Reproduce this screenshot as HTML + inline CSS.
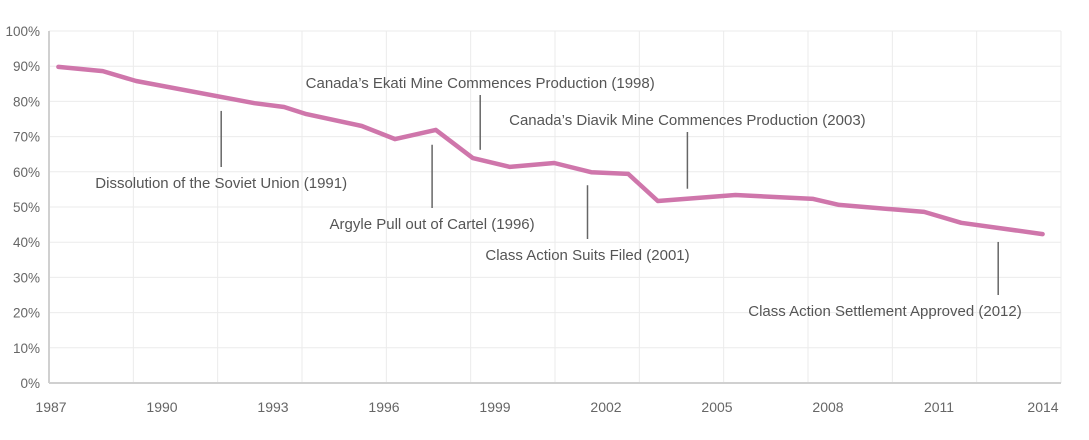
<!DOCTYPE html>
<html><head><meta charset="utf-8"><style>
body{margin:0;background:#fff;}
svg{display:block;font-family:"Liberation Sans",sans-serif;}
</style></head><body>
<svg id="chart" width="1089" height="440" viewBox="0 0 1089 440"></svg>
<script>
const years=[1987.2,1988.4,1989.3,1992.5,1993.3,1993.9,1995.4,1996.3,1997.4,1998.4,1999.4,2000.6,2001.6,2002.6,2003.4,2005.5,2007.6,2008.3,2010.6,2011.6,2013.8];
const values=[89.8,88.6,85.8,79.5,78.4,76.4,73.0,69.3,71.9,63.9,61.4,62.5,59.9,59.4,51.7,53.4,52.3,50.6,48.6,45.5,42.3];
const yTicks=[0,10,20,30,40,50,60,70,80,90,100];
const xTickLabels=[1987,1990,1993,1996,1999,2002,2005,2008,2011,2014];
const annoText=["Dissolution of the Soviet Union (1991)","Canada’s Ekati Mine Commences Production (1998)","Argyle Pull out of Cartel (1996)","Canada’s Diavik Mine Commences Production (2003)","Class Action Suits Filed (2001)","Class Action Settlement Approved (2012)"];
const annoYear=[1991.6,1998.6,1997.3,2004.2,2001.5,2012.6];

const NS="http://www.w3.org/2000/svg";
const svg=document.getElementById('chart');
const L=49,R=1061,B=383,T=31;
const x=yr=>51+(yr-1987)*37.0;
const y=v=>B-(v/100)*(B-T);
function mk(tag,attrs){const e=document.createElementNS(NS,tag);for(const k in attrs)e.setAttribute(k,attrs[k]);svg.appendChild(e);return e;}
function interp(yr){for(let j=0;j<years.length-1;j++){if(yr>=years[j]&&yr<=years[j+1]){const f=(yr-years[j])/(years[j+1]-years[j]);return values[j]+f*(values[j+1]-values[j]);}}return values[values.length-1];}

for(let i=0;i<=12;i++){const gx=L+i*(R-L)/12;
 const g=mk('line',{x1:gx,x2:gx,y1:T,y2:B,stroke:'#ebebeb','stroke-width':1});
 
 }
yTicks.forEach(v=>{
 const g=mk('line',{x1:L,x2:R,y1:y(v),y2:y(v),stroke:v===0?'#d0d0d0':'#ebebeb','stroke-width':v===0?2:1});
 
 
 const t=mk('text',{x:40,y:y(v)+5,'text-anchor':'end','font-size':13.5,fill:'#666'});t.textContent=v+'%';
 
 
});
const ax=mk('line',{x1:L,x2:L,y1:T,y2:B,stroke:'#d0d0d0','stroke-width':2});


xTickLabels.forEach((yr,i)=>{
 let px=x(yr);if(i===xTickLabels.length-1)px=Math.min(px,1043);
 const t=mk('text',{x:px,y:412,'text-anchor':'middle','font-size':14,fill:'#666'});t.textContent=yr;
 
 
});
const annoLabelY=[183,83,224,120,255,311];
annoYear.forEach((yr,i)=>{
 const px=x(yr);
 const ly=annoLabelY[i];
 const above=ly<y(interp(yr));
 const ln=mk('line',{x1:px,x2:px,y1:above?ly+12:y(interp(yr))+14,y2:above?y(interp(yr))-10:ly-16,stroke:'#666','stroke-width':1.5});
 
 
 let cx=px;if(i===5)cx=885;
 const t=mk('text',{x:cx,y:ly+5,'text-anchor':'middle','font-size':15,fill:'#555'});t.textContent=annoText[i];
 
 
});
const d=years.map((yr,i)=>(i?'L':'M')+x(yr).toFixed(1)+','+y(values[i]).toFixed(1)).join('');
const p=mk('path',{d:d,fill:'none',stroke:'#cf76ab','stroke-width':4.5,'stroke-linejoin':'round','stroke-linecap':'round'});


</script>
</body></html>
